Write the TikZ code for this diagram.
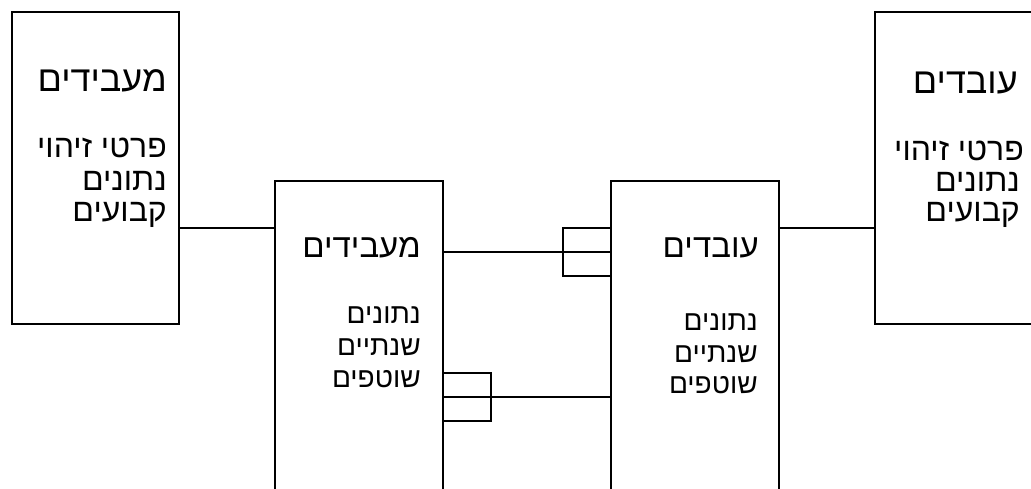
\documentclass[tikz,border=0pt]{standalone}
\usepackage{fontspec}
\setmainfont{Liberation Sans}
\newfontfamily\hebfont[Script=Hebrew]{Liberation Sans}
\TeXXeTstate=1
\begin{document}
\begin{tikzpicture}[x=1pt,y=-1pt,
  entity/.style={draw,line width=1.3pt,rectangle,inner sep=0pt},
  ln/.style={line width=1.3pt},
  big/.style={anchor=base east,inner sep=0pt,font=\hebfont\fontsize{36}{40}\selectfont},
  mid/.style={anchor=base east,inner sep=0pt,font=\hebfont\fontsize{33}{38}\selectfont},
  bodyl/.style={anchor=base east,inner sep=0pt,font=\hebfont\fontsize{32}{36}\selectfont},
  body/.style={anchor=base east,inner sep=0pt,font=\hebfont\fontsize{28}{32}\selectfont}]
\useasboundingbox (0,0) rectangle (1031,488);
\clip (0,0) rectangle (1031,488);
\fill[white] (0,0) rectangle (1031,488);
% boxes
\node[entity,minimum width=167pt,minimum height=312pt] (b1) at (95.5,168) {};
\node[entity,minimum width=168pt,minimum height=338pt] (b2) at (359,350) {};
\node[entity,minimum width=168pt,minimum height=338pt] (b3) at (695,350) {};
\node[entity,minimum width=168pt,minimum height=312pt] (b4) at (959,168) {};
% helper coordinates
\coordinate (ya) at (0,228);
\coordinate (yb) at (0,252);
\coordinate (yc) at (0,276);
\coordinate (yd) at (0,373);
\coordinate (ye) at (0,397);
\coordinate (yf) at (0,421);
\coordinate (xa) at (563,0);
\coordinate (xb) at (491,0);
% texts box 1
\node[big] (t1) at (167,91) {\beginR מעבידים\endR};
\node[bodyl] (t1a) at (167,157) {\beginR פרטי זיהוי\endR};
\node[bodyl] (t1b) at (167,190) {\beginR נתונים\endR};
\node[bodyl] (t1c) at (167,221) {\beginR קבועים\endR};
% texts box 4
\node[big] (t4) at (1018,93) {\beginR עובדים\endR};
\node[bodyl] (t4a) at (1024,160) {\beginR פרטי זיהוי\endR};
\node[bodyl] (t4b) at (1020,191) {\beginR נתונים\endR};
\node[bodyl] (t4c) at (1020,221) {\beginR קבועים\endR};
% texts box 2
\node[mid] (t2) at (421,257) {\beginR מעבידים\endR};
\node[body] (t2a) at (421,323) {\beginR נתונים\endR};
\node[body] (t2b) at (421,355) {\beginR שנתיים\endR};
\node[body] (t2c) at (421,387) {\beginR שוטפים\endR};
% texts box 3
\node[mid] (t3) at (759,257) {\beginR עובדים\endR};
\node[body] (t3a) at (758,330) {\beginR נתונים\endR};
\node[body] (t3b) at (758,362) {\beginR שנתיים\endR};
\node[body] (t3c) at (758,393) {\beginR שוטפים\endR};
% connectors
\draw[ln] (b1.east |- ya) -- (b2.west |- ya);
\draw[ln] (b3.east |- ya) -- (b4.west |- ya);
\draw[ln] (b2.east |- yb) -- (b3.west |- yb);
\draw[ln] (b3.west |- ya) -- (xa |- ya) -- (xa |- yc) -- (b3.west |- yc);
\draw[ln] (b3.west |- ye) -- (b2.east |- ye);
\draw[ln] (b2.east |- yd) -- (xb |- yd) -- (xb |- yf) -- (b2.east |- yf);
\end{tikzpicture}
\end{document}
